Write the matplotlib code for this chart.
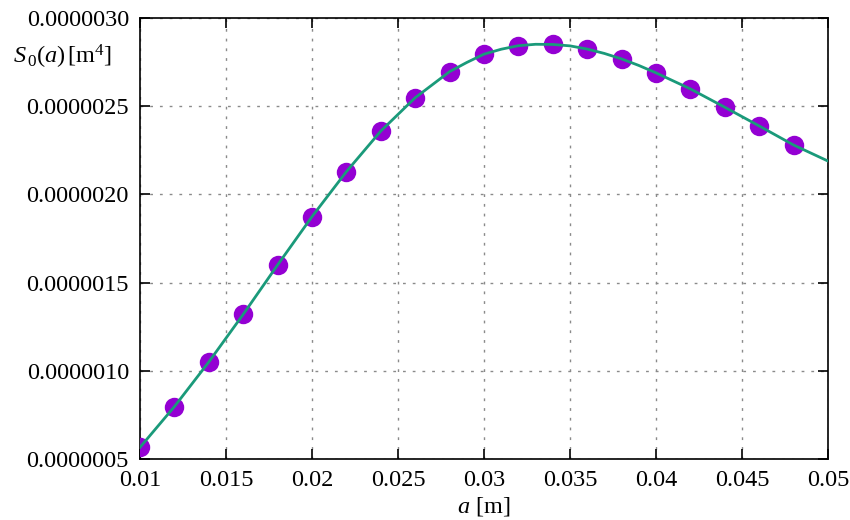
import matplotlib
matplotlib.use("Agg")
import matplotlib.pyplot as plt
from matplotlib.ticker import FixedLocator, FixedFormatter

# ---- data ----
dot_x = [0.010, 0.012, 0.014, 0.016, 0.018, 0.020, 0.022, 0.024, 0.026, 0.028,
         0.030, 0.032, 0.034, 0.036, 0.038, 0.040, 0.042, 0.044, 0.046, 0.048]
dot_y = [0.566e-6, 0.797e-6, 1.050e-6, 1.320e-6, 1.600e-6, 1.874e-6, 2.129e-6,
         2.359e-6, 2.548e-6, 2.696e-6, 2.795e-6, 2.843e-6, 2.853e-6, 2.824e-6,
         2.768e-6, 2.689e-6, 2.598e-6, 2.494e-6, 2.388e-6, 2.280e-6]

line_x = [0.010, 0.012, 0.014, 0.016, 0.018, 0.020, 0.022, 0.024, 0.026, 0.028,
          0.029, 0.030, 0.031, 0.032, 0.033, 0.034, 0.035, 0.036, 0.037, 0.038,
          0.039, 0.040, 0.042, 0.044, 0.046, 0.048, 0.050]
line_y = [0.566e-6, 0.797e-6, 1.050e-6, 1.320e-6, 1.600e-6, 1.874e-6, 2.129e-6,
          2.359e-6, 2.548e-6, 2.696e-6, 2.748e-6, 2.795e-6, 2.823e-6, 2.843e-6,
          2.851e-6, 2.850e-6, 2.842e-6, 2.824e-6, 2.799e-6, 2.768e-6, 2.731e-6,
          2.689e-6, 2.598e-6, 2.494e-6, 2.388e-6, 2.280e-6, 2.189e-6]

xticks = [0.01, 0.015, 0.02, 0.025, 0.03, 0.035, 0.04, 0.045, 0.05]
xtick_labels = ["0.01", "0.015", "0.02", "0.025", "0.03", "0.035", "0.04", "0.045", "0.05"]
yticks = [0.5e-6, 1.0e-6, 1.5e-6, 2.0e-6, 2.5e-6, 3.0e-6]
ytick_labels = ["0.0000005", "0.0000010", "0.0000015", "0.0000020", "0.0000025", "0.0000030"]

# ---- style ----
plt.rcParams['font.family'] = ['Liberation Serif', 'DejaVu Serif']
plt.rcParams['mathtext.fontset'] = 'custom'
plt.rcParams['mathtext.rm'] = 'Liberation Serif'
plt.rcParams['mathtext.it'] = 'Liberation Serif:italic'
plt.rcParams['mathtext.bf'] = 'Liberation Serif:bold'

FS = 17.5

fig = plt.figure(figsize=(8.5, 5.2), dpi=100)
ax = fig.add_axes([140/850, 61/520, 688/850, 441/520])

ax.plot(dot_x, dot_y, linestyle='none', marker='o', markersize=14,
        color='#9400D3', markeredgewidth=0, zorder=3)
ax.plot(line_x, line_y, color='#1a9a7a', linewidth=2.0, zorder=4,
        solid_joinstyle='round')

ax.set_xlim(0.01, 0.05)
ax.set_ylim(0.5e-6, 3.0e-6)

ax.xaxis.set_major_locator(FixedLocator(xticks))
ax.xaxis.set_major_formatter(FixedFormatter(xtick_labels))
ax.yaxis.set_major_locator(FixedLocator(yticks))
ax.yaxis.set_major_formatter(FixedFormatter(ytick_labels))

ax.tick_params(axis='both', which='major', direction='in', length=7, width=1.2,
               top=True, right=True, labelsize=FS, colors='black')
ax.tick_params(axis='y', pad=8)
ax.tick_params(axis='x', pad=8)

for s in ax.spines.values():
    s.set_linewidth(1.2)
    s.set_color('black')

ax.grid(True, which='major', color='#8a8a8a', linewidth=1.0,
        linestyle=(0, (2, 5)))
ax.set_axisbelow(True)

ax.set_xlabel(r'$a$ [m]', fontsize=FS, labelpad=3)
fig.text(62/850, 1 - 57/520, r'$S_{\,0}(a)\,[\mathrm{m}^4]$', fontsize=FS,
         ha='center', va='center')

fig.savefig('out.png', dpi=100)
